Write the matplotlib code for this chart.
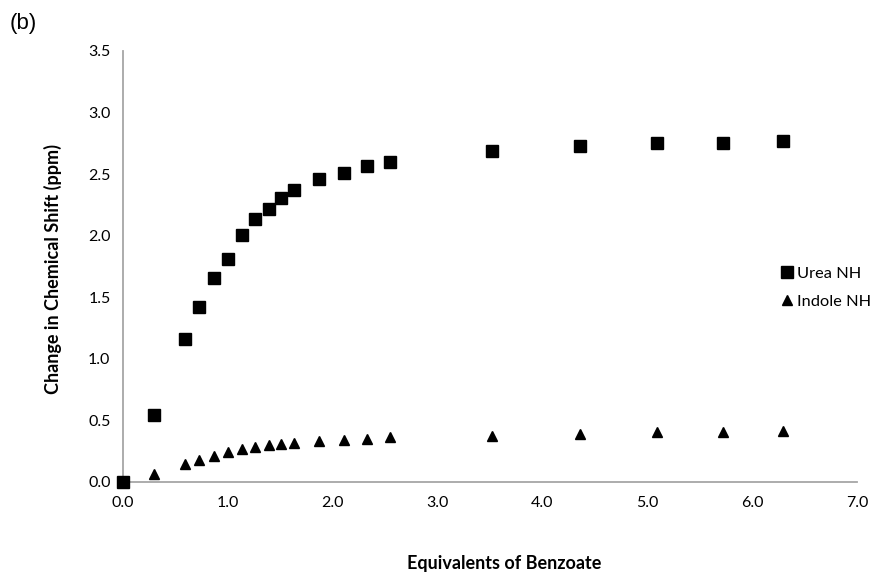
import matplotlib
matplotlib.use("Agg")
import matplotlib.pyplot as plt

equiv = [0.0, 0.30, 0.59, 0.725, 0.865, 1.00, 1.13, 1.26, 1.39, 1.51, 1.63,
         1.87, 2.11, 2.33, 2.55, 3.52, 4.36, 5.09, 5.72, 6.29]
urea_nh = [0.0, 0.546, 1.163, 1.418, 1.654, 1.81, 2.005, 2.133, 2.217, 2.304,
           2.372, 2.459, 2.513, 2.567, 2.60, 2.687, 2.725, 2.755, 2.755, 2.766]
indole_nh = [0.0, 0.063, 0.15, 0.18, 0.21, 0.245, 0.264, 0.283, 0.297, 0.307,
             0.318, 0.332, 0.345, 0.35, 0.362, 0.375, 0.389, 0.405, 0.403, 0.413]
x_ticks = [0, 1, 2, 3, 4, 5, 6, 7]
y_ticks = [0, 0.5, 1.0, 1.5, 2.0, 2.5, 3.0, 3.5]

plt.rcParams['font.family'] = ['Lato', 'DejaVu Sans']

fig = plt.figure(figsize=(8.77, 5.76), dpi=100)
ax = fig.add_axes([0.1403, 0.1632, 0.8369, 0.7483])

ax.plot(equiv, indole_nh, linestyle='none', marker='^', ms=7.5, color='black',
        label='Indole NH', zorder=3)
ax.plot(equiv, urea_nh, linestyle='none', marker='s', ms=8, color='black',
        label='Urea NH', zorder=4)

ax.set_xlim(0, 7)
ax.set_ylim(0, 3.5)
ax.set_xticks(x_ticks)
ax.set_xticklabels([f"{v:.1f}" for v in x_ticks])
ax.set_yticks(y_ticks)
ax.set_yticklabels([f"{v:.1f}" for v in y_ticks])
ax.tick_params(length=0, labelsize=11.5, pad=10)
ax.tick_params(axis='y', pad=9)

for s in ['top', 'right']:
    ax.spines[s].set_visible(False)
for s in ['left', 'bottom']:
    ax.spines[s].set_color('#a6a6a6')
    ax.spines[s].set_linewidth(1.3)
for line in ax.lines:
    line.set_clip_on(False)

ax.set_xlabel('Equivalents of Benzoate', fontsize=13, fontweight='bold', va='center')
ax.xaxis.set_label_coords(0.519, -0.188)
ax.set_ylabel('Change in Chemical Shift (ppm)', fontsize=13, fontweight='bold', va='center')
ax.yaxis.set_label_coords(-0.095, 0.494)

handles, labels = ax.get_legend_handles_labels()
leg = ax.legend(handles[::-1], labels[::-1], loc='center left', bbox_to_anchor=(0.889, 0.451),
                frameon=False, fontsize=11.8, handlelength=0.6, handletextpad=0.3,
                labelspacing=0.8, borderaxespad=0)

fig.text(0.011, 0.96, '(b)', fontsize=16, family=['Liberation Sans', 'DejaVu Sans'], va='center')

fig.savefig('out.png', dpi=100)
